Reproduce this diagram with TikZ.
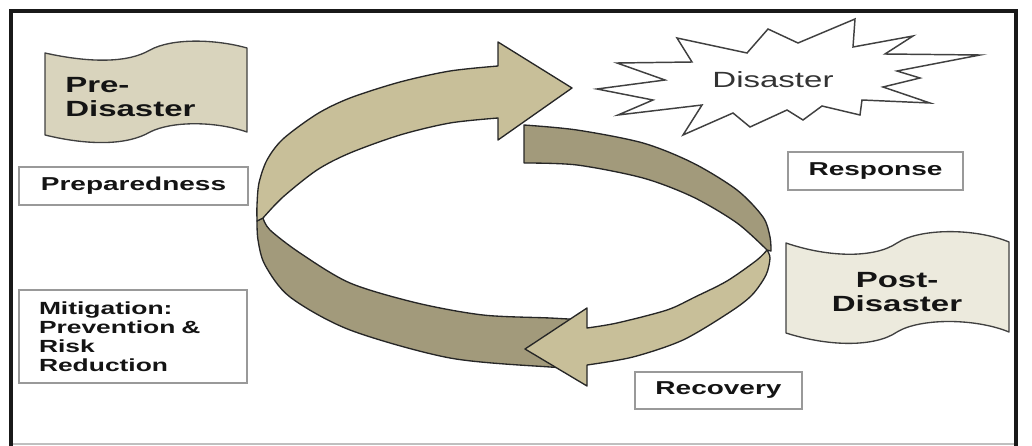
\documentclass[tikz,border=0pt]{standalone}
\usepackage{fontspec}
\newfontfamily\lab[FakeStretch=1.5]{Liberation Sans}
\definecolor{bandlight}{HTML}{C8BF99}
\definecolor{banddark}{HTML}{A29A7B}
\definecolor{prefill}{HTML}{D9D4BD}
\definecolor{postfill}{HTML}{ECEADD}
\begin{document}
\begin{tikzpicture}[x=0.75pt,y=-0.75pt]
\tikzset{
  band/.style={draw=black!85, line width=1pt, line join=round},
  lightband/.style={band, fill=bandlight},
  darkband/.style={band, fill=banddark},
  textbox/.style={draw=black!40, line width=1pt, fill=white, inner sep=0pt,
    font=\lab\bfseries\fontsize{14}{16}\selectfont, text=black!92},
  wave/.style={draw=black!75, line width=1pt, line join=round},
  wavetext/.style={font=\lab\bfseries\fontsize{16.5}{18}\selectfont, text=black!92, inner sep=0pt},
  starline/.style={draw=black!75, line width=1.1pt, fill=white, line join=miter},
  framestyle/.style={line width=2.4pt, black!90, line cap=rect},
}
\useasboundingbox (0,0) rectangle (1032,446);
% frame
\draw[black!25, line width=0.8pt] (11,444) -- (1016,444);
\draw[framestyle] (11,446) -- (11,11) -- (1016,11) -- (1016,446);

% ---- cycle arrows ----
% arrow 1 tail (dark, lower left)
\filldraw[darkband] (263,218) -- (257,221)
  -- plot[smooth] coordinates {(257,221) (258,240) (265,265) (290,297) (350,330) (450,358) (550,367) (585,368)}
  -- (585,320)
  -- plot[smooth] coordinates {(585,320) (550,318) (483,315) (417,303) (350,283) (300,253) (270,230) (263,218)}
  -- cycle;
% arrow 2 head (light, lower right)
\filldraw[lightband] (767,250)
  -- plot[smooth] coordinates {(767,250) (770,258) (766,275) (752,295) (730,312) (683,340) (633,357) (587,365)}
  -- (587,386) -- (525,349) -- (587,308) -- (587,328)
  -- plot[smooth] coordinates {(587,328) (617,323) (667,310) (695,297) (727,281) (757,260) (767,250)}
  -- cycle;
% arrow 2 tail (dark, upper right)
\filldraw[darkband] (524,125)
  -- plot[smooth] coordinates {(524,125) (577,130) (643,143) (693,163) (737,190) (763,217) (770,237) (771,251)}
  -- (767,250)
  -- plot[smooth] coordinates {(767,250) (737,223) (693,197) (643,178) (577,165) (524,163)}
  -- cycle;
% arrow 1 head (light, upper left)
\filldraw[lightband] (263,218) -- (257,221)
  -- plot[smooth] coordinates {(257,221) (257,205) (259,183) (267,160) (283,139) (317,114) (350,98) (400,82) (450,71) (498,66)}
  -- (498,42) -- (572,88) -- (498,140) -- (498,118)
  -- plot[smooth] coordinates {(498,118) (450,123) (400,135) (350,153) (317,170) (283,197) (263,218)}
  -- cycle;

% ---- Pre-Disaster wave ----
\filldraw[wave, fill=prefill] (45,53) .. controls (90,63) and (128,63) .. (150,50)
  .. controls (172,38) and (215,39) .. (247,48) -- (247,132)
  .. controls (215,121) and (172,121) .. (150,132)
  .. controls (128,145) and (90,146) .. (45,135) -- cycle;
\node[wavetext, anchor=west, align=left] (pre) at (65,97) {Pre-\\Disaster};

% ---- Post-Disaster wave ----
\filldraw[wave, fill=postfill] (786,243) .. controls (830,258) and (875,258) .. (897,243)
  .. controls (920,228) and (975,228) .. (1009,242) -- (1009,332)
  .. controls (975,318) and (920,318) .. (897,332)
  .. controls (875,347) and (830,347) .. (786,333) -- cycle;
\node[wavetext, align=center] (post) at (897,292) {Post-\\Disaster};

% ---- Disaster star ----
\filldraw[starline] (597,89) -- (665,80) -- (617,63) -- (692,62) -- (677,38) -- (747,53)
  -- (768,29) -- (798,43) -- (855,19) -- (853,47) -- (913,36) -- (885,54) -- (980,55)
  -- (897,71) -- (920,78) -- (883,87) -- (930,103) -- (862,100) -- (860,115) -- (822,106)
  -- (803,120) -- (787,110) -- (750,127) -- (733,113) -- (683,135) -- (702,105)
  -- (618,115) -- (653,100) -- cycle;
\node[font=\lab\fontsize{16.5}{18}\selectfont, text=black!80, inner sep=0pt] (dis) at (773,80) {Disaster};

% ---- text boxes ----
\node[textbox, minimum width=171.75pt, minimum height=28.5pt] (prep) at (133.5,186) {Preparedness};
\node[textbox, minimum width=171pt, minimum height=69.75pt, text width=141pt, align=left,
  font=\lab\bfseries\fontsize{13.2}{14.3}\selectfont] (mit) at (133,336.5)
  {Mitigation:\\Prevention \&\\Risk\\Reduction};
\node[textbox, minimum width=131.25pt, minimum height=28.5pt] (resp) at (875.5,171) {Response};
\node[textbox, minimum width=125.25pt, minimum height=27.75pt] (rec) at (718.5,390.5) {Recovery};
\end{tikzpicture}
\end{document}
